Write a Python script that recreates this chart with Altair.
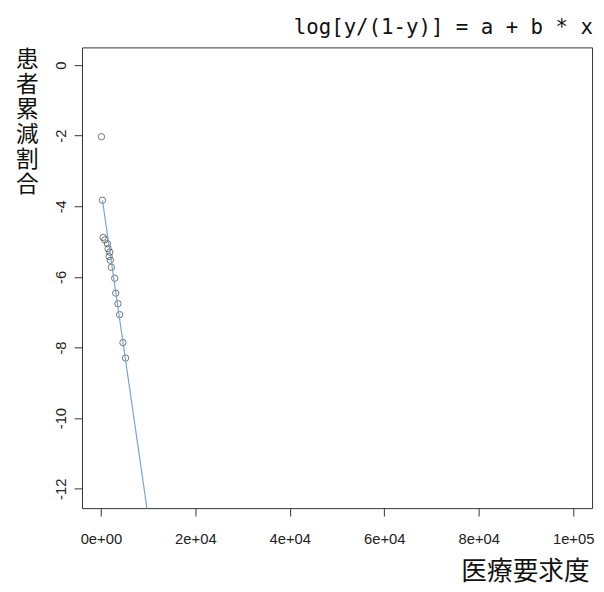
import altair as alt
import pandas as pd

# Observed points (x: 医療要求度, y: log odds of 患者累減割合)
pt_x = [125, 335, 480, 840, 1380, 1530, 1880, 1740, 2010, 2220, 2930, 3140, 3620, 3970, 4670, 5230]
pt_y = [-2.03, -3.83, -4.88, -4.95, -5.06, -5.20, -5.30, -5.42, -5.53, -5.73, -6.04, -6.46, -6.76, -7.07, -7.86, -8.30]

# Fitted line end points
line_x = [335, 11000]
line_y = [-3.83, -13.71]

x_ticks = [0, 20000, 40000, 60000, 80000, 100000]
x_tick_labels = ["0e+00", "2e+04", "4e+04", "6e+04", "8e+04", "1e+05"]
y_ticks = [-12, -10, -8, -6, -4, -2, 0]

title_text = "log[y/(1-y)] = a + b * x"
x_title = "医療要求度"
y_title = "患者累減割合"

pts = pd.DataFrame({"x": pt_x, "y": pt_y})
ln = pd.DataFrame({"x": line_x, "y": line_y})

label_expr = ""
for v, s in zip(x_ticks, x_tick_labels):
    label_expr += f"datum.value == {v} ? '{s}' : "
label_expr += "''"

xscale = alt.Scale(domain=[-4000, 104000], nice=False, zero=False)
yscale = alt.Scale(domain=[-12.55, 0.5], nice=False, zero=False)

xaxis = alt.Axis(
    values=x_ticks, labelExpr=label_expr, grid=False, domain=False,
    tickSize=8, tickColor="#333", labelFont="Liberation Sans", labelFontSize=15,
    labelColor="#222", labelPadding=16, labelFlush=False,
    title=x_title, titleFont="Noto Sans CJK JP", titleFontSize=26,
    titleFontWeight="normal", titleColor="#111", titleX=514, titleY=64,
    titleAlign="right", titleBaseline="middle",
)
yaxis = alt.Axis(
    values=y_ticks, labelExpr="toString(datum.value)", grid=False, domain=False,
    tickSize=8, tickColor="#333",
    labelFont="Liberation Sans", labelFontSize=15, labelColor="#222",
    labelAngle=270, labelAlign="center", labelBaseline="bottom", labelPadding=6,
    labelFlush=False,
    title=list(y_title), titleFont="Noto Sans CJK JP", titleFontSize=23,
    titleFontWeight="normal", titleColor="#111", titleAngle=0,
    titleX=-56, titleY=1, titleAlign="center", titleBaseline="top",
    titleLineHeight=25.5,
)

points = alt.Chart(pts).mark_point(
    shape="circle", filled=False, size=42, color="#3a3a3a", strokeWidth=1
).encode(
    x=alt.X("x:Q", scale=xscale, axis=xaxis),
    y=alt.Y("y:Q", scale=yscale, axis=yaxis),
)

line = alt.Chart(ln).mark_line(color="#7aa3d4", strokeWidth=1.2, clip=True).encode(
    x=alt.X("x:Q", scale=xscale),
    y=alt.Y("y:Q", scale=yscale),
)

chart = alt.layer(points, line).properties(
    width=517, height=467,
    background="white",
    autosize=alt.AutoSizeParams(type="none"),
    padding={"left": 75, "top": 36, "right": 4, "bottom": 76},
    title=alt.TitleParams(
        text=title_text, anchor="end", orient="top", font="DejaVu Sans Mono",
        fontSize=21, fontWeight="normal", color="#111", baseline="alphabetic",
        offset=10, dx=-1, dy=17,
    ),
).configure_view(stroke="#333", strokeWidth=1)

chart.save("out.html", embed_options={"renderer": "svg", "actions": False})
